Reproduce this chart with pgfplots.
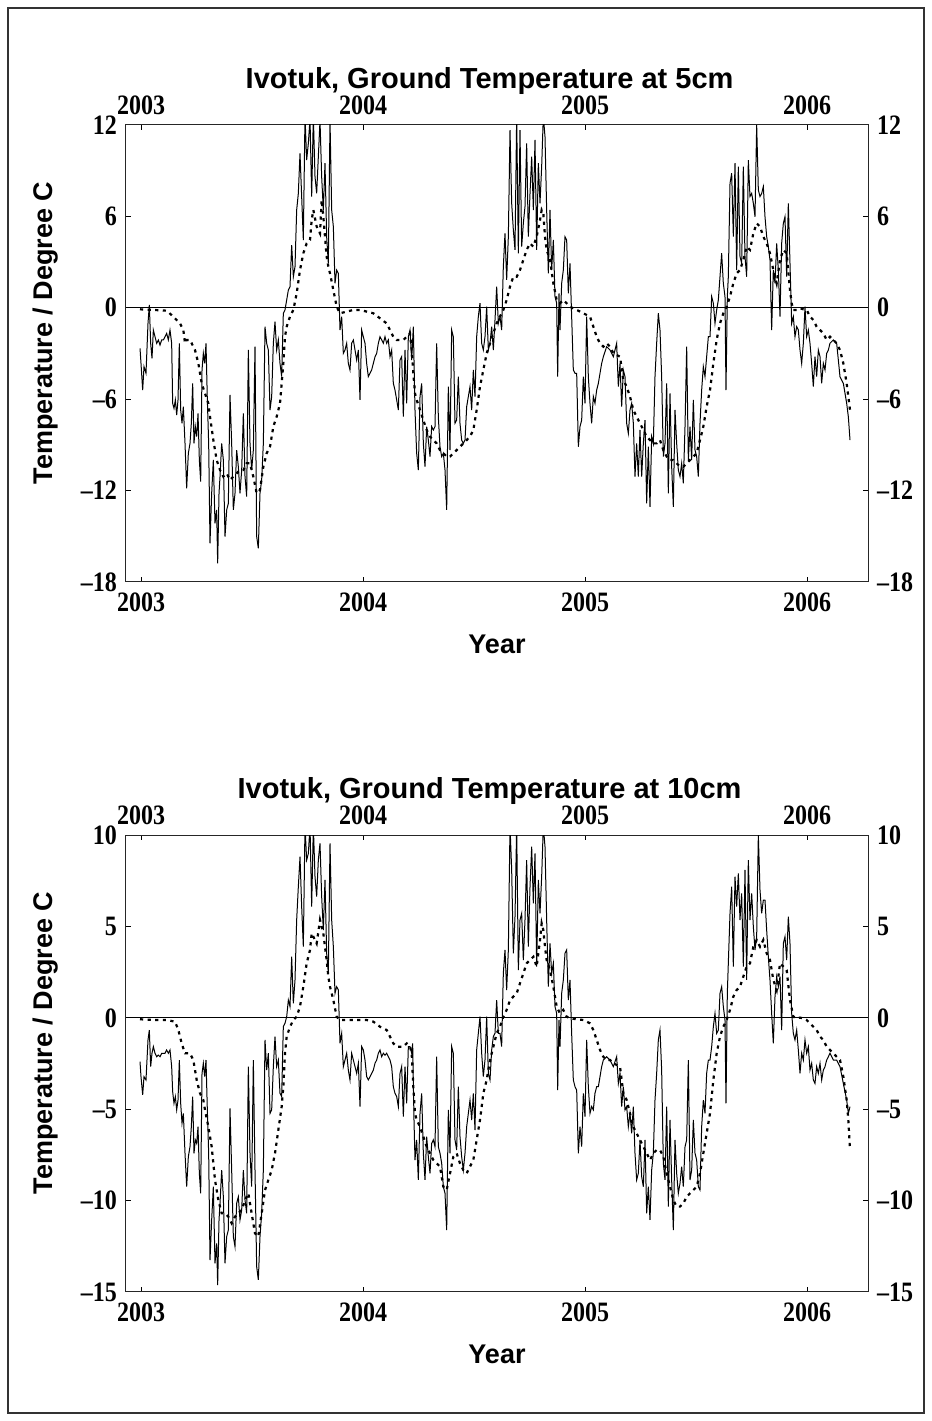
\documentclass[border=0pt]{standalone}
\usepackage{pgfplots}
\usepackage{pgfplotstable}
\pgfplotsset{compat=1.18}
\usepackage{fontspec}
\setmainfont{Liberation Serif}
\setsansfont{Liberation Sans}

\newcommand\tickfont{\rmfamily\bfseries\fontsize{12}{12}\selectfont}
\newcommand\labfont{\sffamily\bfseries\fontsize{13.5}{14}\selectfont}
\newcommand\titfont{\sffamily\bfseries\fontsize{14.5}{15}\selectfont}

% Ivotuk ground temperature, time in years after 1 Jan 2003
% 5 cm: daily series (solid) and smoothed series (dashed)
\pgfplotstableread{
t v
-0.0045 -2.66
0.0000 -3.65
0.0075 -5.40
0.0135 -3.86
0.0225 -4.30
0.0315 -1.02
0.0375 0.19
0.0435 -2.33
0.0495 -3.32
0.0556 -1.46
0.0631 -1.90
0.0706 -2.33
0.0781 -2.11
0.0856 -2.44
0.0931 -2.11
0.1006 -2.11
0.1081 -1.90
0.1156 -1.68
0.1231 -2.11
0.1306 -1.46
0.1381 -2.33
0.1426 -6.27
0.1486 -6.60
0.1547 -6.05
0.1607 -7.04
0.1667 -6.05
0.1727 -2.33
0.1787 -6.71
0.1847 -7.58
0.1907 -6.49
0.1982 -8.90
0.2057 -11.85
0.2132 -9.55
0.2207 -8.90
0.2267 -7.58
0.2327 -4.96
0.2387 -8.90
0.2447 -7.80
0.2508 -8.46
0.2568 -6.93
0.2628 -9.99
0.2688 -11.41
0.2748 -4.08
0.2808 -2.99
0.2868 -3.65
0.2928 -2.33
0.2988 -6.05
0.3048 -8.90
0.3108 -15.46
0.3183 -12.18
0.3258 -9.99
0.3333 -14.15
0.3408 -13.27
0.3453 -16.77
0.3514 -12.18
0.3559 -11.08
0.3634 -8.90
0.3709 -9.99
0.3784 -15.02
0.3859 -13.27
0.3934 -12.84
0.4009 -5.72
0.4084 -8.90
0.4159 -13.27
0.4234 -12.18
0.4309 -9.34
0.4384 -10.43
0.4459 -12.18
0.4535 -10.65
0.4610 -6.93
0.4685 -11.08
0.4760 -12.40
0.4835 -2.77
0.4910 -8.90
0.4985 -10.65
0.5060 -9.34
0.5135 -2.55
0.5210 -15.02
0.5285 -15.79
0.5360 -12.18
0.5435 -11.30
0.5511 -8.90
0.5586 -1.24
0.5661 -2.33
0.5736 -2.77
0.5811 -6.71
0.5886 -5.83
0.5961 -2.33
0.6036 -0.91
0.6111 -2.77
0.6186 -2.11
0.6261 -3.65
0.6336 -4.52
0.6411 -0.36
0.6486 -0.14
0.6562 0.51
0.6637 1.17
0.6712 1.39
0.6787 4.12
0.6862 2.04
0.6937 2.70
0.7012 6.42
0.7087 7.51
0.7162 10.14
0.7237 7.30
0.7312 4.45
0.7387 12.60
0.7462 9.70
0.7538 10.80
0.7613 12.40
0.7688 7.30
0.7763 12.60
0.7838 8.61
0.7913 7.51
0.7988 9.92
0.8063 12.30
0.8138 8.61
0.8213 6.42
0.8288 9.49
0.8363 4.67
0.8438 2.92
0.8514 12.30
0.8589 6.42
0.8664 5.33
0.8739 1.61
0.8814 2.48
0.8889 2.26
0.8964 -1.46
0.9039 -0.58
0.9114 -2.99
0.9189 -2.77
0.9264 -2.33
0.9339 -3.65
0.9414 -4.08
0.9489 -2.33
0.9565 -2.11
0.9640 -2.77
0.9715 -3.43
0.9790 -2.77
0.9865 -6.05
0.9940 -1.46
1.0015 -1.90
1.0090 -2.33
1.0165 -3.65
1.0240 -4.52
1.0315 -4.30
1.0390 -4.08
1.0465 -3.65
1.0541 -3.22
1.0616 -2.99
1.0691 -2.33
1.0766 -1.90
1.0841 -2.11
1.0916 -2.33
1.0991 -1.90
1.1066 -2.33
1.1141 -2.11
1.1216 -3.21
1.1291 -2.77
1.1366 -4.96
1.1441 -5.40
1.1517 -6.05
1.1592 -6.71
1.1667 -3.43
1.1742 -3.21
1.1817 -7.15
1.1892 -2.77
1.1967 -6.27
1.2042 -1.90
1.2117 -1.46
1.2192 -3.43
1.2267 -1.24
1.2342 -6.71
1.2417 -9.55
1.2492 -10.65
1.2568 -5.83
1.2643 -4.96
1.2718 -8.90
1.2793 -10.43
1.2868 -7.80
1.2943 -8.68
1.3018 -9.77
1.3093 -7.80
1.3168 -8.02
1.3243 -7.80
1.3318 -2.33
1.3393 -7.15
1.3468 -9.12
1.3544 -9.77
1.3619 -9.55
1.3694 -10.65
1.3769 -13.27
1.3844 -5.18
1.3919 -9.34
1.3994 -1.46
1.4069 -1.90
1.4144 -7.58
1.4219 -7.37
1.4294 -4.52
1.4369 -7.58
1.4444 -8.68
1.4520 -8.90
1.4595 -8.68
1.4670 -6.49
1.4745 -5.83
1.4820 -5.18
1.4895 -6.71
1.4970 -4.08
1.5045 -5.83
1.5120 -1.90
1.5195 -0.58
1.5270 0.30
1.5345 -2.33
1.5420 -2.77
1.5495 -1.90
1.5571 0.07
1.5646 -2.77
1.5721 -2.33
1.5796 -1.24
1.5871 -2.77
1.5946 -0.80
1.6021 1.39
1.6096 -1.02
1.6171 -0.58
1.6246 -1.46
1.6321 2.70
1.6396 4.89
1.6471 1.83
1.6547 4.67
1.6622 11.67
1.6697 6.86
1.6772 5.11
1.6847 3.80
1.6922 12.60
1.6997 3.58
1.7072 11.67
1.7147 4.01
1.7222 5.54
1.7297 6.64
1.7372 10.80
1.7447 4.67
1.7523 7.51
1.7598 9.92
1.7673 6.42
1.7748 11.02
1.7823 3.80
1.7898 9.49
1.7973 6.86
1.8048 9.27
1.8123 12.60
1.8198 11.23
1.8273 6.42
1.8348 2.26
1.8423 6.42
1.8498 2.48
1.8574 4.45
1.8649 0.73
1.8724 0.30
1.8769 -4.52
1.8829 0.95
1.8874 -1.46
1.8949 1.61
1.9024 2.48
1.9099 4.67
1.9174 4.45
1.9249 0.95
1.9324 2.92
1.9399 -0.58
1.9474 -4.08
1.9550 -4.30
1.9625 -4.30
1.9700 -9.12
1.9775 -7.80
1.9850 -7.37
1.9925 -4.52
2.0000 -6.27
2.0075 -0.58
2.0150 -4.52
2.0225 -6.27
2.0300 -7.58
2.0375 -5.83
2.0450 -6.27
2.0526 -5.40
2.0601 -4.96
2.0676 -4.30
2.0751 -3.65
2.0826 -3.21
2.0976 -2.55
2.1126 -2.77
2.1276 -3.21
2.1426 -2.33
2.1502 -5.18
2.1577 -3.65
2.1652 -6.49
2.1727 -4.08
2.1802 -4.52
2.1877 -7.58
2.1952 -8.24
2.2027 -6.71
2.2102 -6.27
2.2177 -7.58
2.2252 -11.08
2.2327 -8.90
2.2402 -11.08
2.2477 -8.02
2.2553 -11.08
2.2628 -8.90
2.2703 -7.37
2.2778 -12.84
2.2853 -9.12
2.2928 -13.06
2.3003 -8.46
2.3078 -8.90
2.3153 -4.52
2.3228 -2.33
2.3303 -0.36
2.3378 -1.46
2.3453 -4.52
2.3529 -9.77
2.3604 -8.90
2.3679 -4.96
2.3754 -12.18
2.3829 -5.62
2.3904 -10.43
2.3979 -13.06
2.4054 -6.71
2.4129 -8.90
2.4204 -10.65
2.4279 -11.08
2.4354 -10.21
2.4429 -11.52
2.4505 -7.80
2.4580 -2.55
2.4655 -9.99
2.4730 -7.80
2.4805 -9.99
2.4880 -6.05
2.4955 -9.34
2.5030 -9.77
2.5105 -11.08
2.5180 -7.58
2.5255 -5.40
2.5330 -3.86
2.5405 -4.52
2.5480 -3.21
2.5556 -1.90
2.5631 -1.90
2.5706 0.73
2.5781 0.30
2.5856 -1.02
2.5931 -0.14
2.6006 0.51
2.6081 2.04
2.6156 3.58
2.6231 1.61
2.6306 0.73
2.6351 -5.40
2.6411 0.73
2.6456 2.04
2.6532 8.17
2.6607 8.83
2.6682 4.67
2.6757 9.49
2.6832 2.48
2.6907 9.27
2.6982 3.36
2.7057 2.92
2.7132 9.27
2.7207 3.36
2.7282 2.04
2.7357 9.70
2.7432 7.30
2.7508 7.51
2.7583 6.86
2.7658 5.98
2.7733 12.00
2.7808 7.73
2.7883 7.30
2.7958 7.51
2.8033 7.95
2.8108 5.98
2.8183 4.67
2.8258 4.01
2.8333 3.14
2.8408 -1.46
2.8483 2.48
2.8559 1.61
2.8634 4.23
2.8709 2.48
2.8784 -0.58
2.8859 4.23
2.8934 5.54
2.9009 5.98
2.9084 2.04
2.9159 6.86
2.9234 2.92
2.9309 -1.02
2.9384 -0.58
2.9459 -1.90
2.9535 -1.24
2.9610 -1.46
2.9685 -2.77
2.9760 -3.65
2.9835 -2.33
2.9910 0.07
2.9985 -1.90
3.0060 -1.46
3.0135 -2.33
3.0210 -3.65
3.0285 -5.18
3.0360 -3.21
3.0435 -4.52
3.0511 -2.77
3.0586 -3.21
3.0661 -4.96
3.0736 -3.65
3.0811 -4.08
3.0886 -2.99
3.0961 -2.77
3.1036 -2.33
3.1186 -2.11
3.1336 -2.33
3.1486 -4.52
3.1637 -4.96
3.1787 -6.27
3.1862 -7.15
3.1937 -8.68
}\dailyfive

\pgfplotstableread{
t v
-0.0045 -0.10
0.0556 -0.14
0.1156 -0.19
0.1456 -0.58
0.1757 -1.02
0.1907 -1.46
0.1982 -2.33
0.2057 -2.11
0.2207 -2.11
0.2282 -2.33
0.2432 -2.77
0.2583 -3.65
0.2733 -4.96
0.2883 -5.62
0.3033 -6.27
0.3108 -7.15
0.3258 -8.68
0.3408 -9.99
0.3559 -10.65
0.3709 -11.08
0.3859 -10.87
0.4009 -11.30
0.4159 -11.08
0.4309 -10.87
0.4459 -10.65
0.4610 -10.65
0.4760 -10.21
0.4910 -10.21
0.5060 -11.08
0.5210 -12.18
0.5360 -11.96
0.5511 -10.43
0.5661 -9.55
0.5811 -9.12
0.5961 -7.80
0.6111 -7.15
0.6261 -6.27
0.6336 -4.96
0.6411 -3.65
0.6486 -1.90
0.6562 -1.24
0.6712 -0.58
0.6862 -0.14
0.7012 0.95
0.7162 2.48
0.7312 3.58
0.7462 4.23
0.7613 4.45
0.7688 5.76
0.7763 6.42
0.7913 5.33
0.8063 4.89
0.8138 7.08
0.8213 5.98
0.8288 4.67
0.8363 3.36
0.8438 2.70
0.8514 2.26
0.8664 1.17
0.8814 0.07
0.8964 -0.36
0.9264 -0.25
0.9565 -0.14
0.9865 -0.14
1.0165 -0.25
1.0465 -0.36
1.0766 -0.69
1.1066 -1.02
1.1216 -1.46
1.1366 -1.90
1.1517 -2.11
1.1667 -2.11
1.1817 -2.11
1.1967 -1.90
1.2117 -1.68
1.2192 -2.77
1.2267 -4.30
1.2342 -5.62
1.2417 -6.05
1.2568 -6.71
1.2718 -7.37
1.2868 -8.02
1.3018 -8.46
1.3168 -8.68
1.3318 -8.90
1.3468 -9.34
1.3619 -9.55
1.3769 -9.77
1.3919 -9.77
1.4069 -9.55
1.4219 -9.34
1.4369 -9.12
1.4520 -8.90
1.4670 -8.68
1.4820 -8.46
1.4970 -8.02
1.5120 -6.71
1.5270 -5.18
1.5420 -4.08
1.5571 -2.99
1.5721 -2.33
1.5871 -1.68
1.6021 -1.02
1.6171 -0.58
1.6321 -0.14
1.6471 0.51
1.6622 1.39
1.6772 2.04
1.6922 2.04
1.7072 2.48
1.7222 3.14
1.7372 3.80
1.7523 4.23
1.7673 4.01
1.7823 4.67
1.7973 5.76
1.8048 6.42
1.8123 6.20
1.8198 4.67
1.8273 3.80
1.8423 3.14
1.8574 1.61
1.8724 0.51
1.8874 0.30
1.9024 0.51
1.9174 0.30
1.9324 0.07
1.9625 -0.14
1.9925 -0.36
2.0225 -0.58
2.0375 -1.24
2.0526 -1.90
2.0676 -2.33
2.0826 -2.55
2.0976 -2.33
2.1126 -2.55
2.1276 -2.99
2.1577 -3.21
2.1727 -4.74
2.1877 -5.18
2.2027 -5.83
2.2177 -6.71
2.2327 -7.15
2.2477 -7.58
2.2628 -8.02
2.2778 -8.46
2.2928 -8.68
2.3078 -8.90
2.3228 -8.90
2.3378 -8.68
2.3529 -9.34
2.3679 -9.77
2.3829 -9.99
2.3979 -9.99
2.4129 -10.21
2.4279 -10.43
2.4429 -10.43
2.4580 -10.21
2.4730 -9.99
2.4880 -9.77
2.5030 -9.55
2.5180 -8.68
2.5330 -7.80
2.5480 -6.49
2.5631 -5.40
2.5781 -3.65
2.5931 -2.11
2.6081 -1.02
2.6231 -0.36
2.6381 0.07
2.6532 0.73
2.6682 1.61
2.6832 2.26
2.6982 2.48
2.7132 3.14
2.7282 4.01
2.7432 3.80
2.7583 4.89
2.7733 5.55
2.7883 5.33
2.8033 4.67
2.8183 4.23
2.8333 3.58
2.8483 2.48
2.8634 1.61
2.8784 3.14
2.8934 3.80
2.9084 3.58
2.9234 1.17
2.9309 0.30
2.9384 -0.14
2.9535 -0.14
2.9685 -0.03
2.9835 -0.10
2.9985 -0.14
3.0135 -0.58
3.0285 -0.80
3.0435 -1.24
3.0586 -1.46
3.0736 -1.68
3.0886 -2.11
3.1036 -1.90
3.1186 -2.11
3.1336 -2.33
3.1486 -2.77
3.1637 -3.65
3.1787 -4.96
3.1862 -5.83
3.1937 -6.71
}\smoothfive

% 10 cm: daily series (solid) and smoothed series (dashed)
\pgfplotstableread{
t v
-0.0045 -2.40
0.0000 -3.22
0.0075 -4.22
0.0135 -3.22
0.0225 -3.40
0.0315 -1.21
0.0375 -0.67
0.0435 -2.67
0.0495 -1.94
0.0556 -1.58
0.0631 -1.94
0.0706 -2.13
0.0781 -2.04
0.0856 -2.13
0.0931 -1.94
0.1006 -1.94
0.1081 -1.94
0.1156 -1.76
0.1231 -1.94
0.1306 -1.76
0.1381 -2.67
0.1426 -4.04
0.1486 -4.68
0.1547 -4.31
0.1607 -5.04
0.1667 -4.50
0.1727 -2.31
0.1787 -4.68
0.1847 -5.77
0.1907 -5.23
0.1982 -7.41
0.2057 -9.24
0.2132 -7.60
0.2207 -7.05
0.2267 -5.96
0.2327 -4.31
0.2387 -7.41
0.2447 -6.68
0.2508 -6.87
0.2568 -5.96
0.2628 -8.51
0.2688 -9.60
0.2748 -3.04
0.2808 -2.49
0.2868 -3.22
0.2928 -2.31
0.2988 -5.04
0.3048 -7.41
0.3108 -13.25
0.3183 -11.06
0.3258 -9.24
0.3333 -13.43
0.3408 -12.34
0.3453 -14.62
0.3514 -11.06
0.3559 -10.15
0.3634 -8.33
0.3709 -9.79
0.3784 -13.43
0.3859 -11.97
0.3934 -11.61
0.4009 -4.95
0.4084 -8.33
0.4159 -11.97
0.4234 -12.52
0.4309 -10.15
0.4384 -9.79
0.4459 -11.06
0.4535 -10.51
0.4610 -8.33
0.4685 -9.97
0.4760 -10.70
0.4835 -2.67
0.4910 -7.41
0.4985 -9.24
0.5060 -2.31
0.5135 -8.33
0.5210 -13.61
0.5285 -14.34
0.5360 -11.97
0.5435 -10.70
0.5511 -8.33
0.5586 -1.21
0.5661 -2.86
0.5736 -1.94
0.5811 -5.23
0.5886 -5.04
0.5961 -2.67
0.6036 -1.03
0.6111 -2.67
0.6186 -2.31
0.6261 -4.13
0.6336 -4.31
0.6411 -0.48
0.6486 -0.30
0.6562 0.06
0.6637 0.97
0.6712 0.61
0.6787 3.34
0.6862 0.79
0.6937 2.07
0.7012 5.35
0.7087 7.17
0.7162 8.81
0.7237 6.08
0.7312 3.89
0.7387 10.50
0.7462 8.63
0.7538 8.99
0.7613 10.50
0.7688 6.08
0.7763 10.50
0.7838 7.72
0.7913 6.63
0.7988 8.63
0.8063 9.54
0.8138 6.63
0.8213 4.80
0.8288 7.54
0.8363 3.53
0.8438 2.43
0.8514 9.54
0.8589 5.35
0.8664 3.89
0.8739 1.34
0.8814 1.70
0.8889 1.52
0.8964 -1.40
0.9039 -0.85
0.9114 -2.67
0.9189 -2.31
0.9264 -1.94
0.9339 -2.86
0.9414 -3.40
0.9489 -1.94
0.9565 -2.31
0.9640 -2.67
0.9715 -3.04
0.9790 -2.49
0.9865 -4.86
0.9940 -1.58
1.0015 -1.76
1.0090 -2.31
1.0165 -3.22
1.0240 -3.40
1.0315 -3.22
1.0390 -3.04
1.0465 -2.86
1.0541 -2.49
1.0616 -2.31
1.0691 -1.94
1.0766 -1.76
1.0841 -2.13
1.0916 -1.94
1.0991 -2.04
1.1066 -1.94
1.1141 -2.13
1.1216 -2.31
1.1291 -2.67
1.1366 -3.77
1.1441 -4.13
1.1517 -4.31
1.1592 -4.86
1.1667 -3.04
1.1742 -2.67
1.1817 -5.41
1.1892 -2.67
1.1967 -4.68
1.2042 -1.58
1.2117 -1.58
1.2192 -1.94
1.2237 -1.40
1.2297 -5.59
1.2342 -7.78
1.2417 -6.68
1.2492 -8.87
1.2568 -5.23
1.2643 -4.13
1.2718 -7.41
1.2793 -8.87
1.2868 -6.50
1.2943 -7.60
1.3018 -8.51
1.3093 -6.87
1.3168 -6.68
1.3243 -7.05
1.3318 -2.13
1.3393 -7.05
1.3468 -7.41
1.3544 -7.96
1.3619 -9.24
1.3694 -9.60
1.3769 -11.61
1.3844 -5.04
1.3919 -7.41
1.3994 -1.58
1.4069 -1.94
1.4144 -6.68
1.4219 -7.23
1.4294 -3.77
1.4369 -6.50
1.4444 -7.60
1.4520 -8.33
1.4595 -7.41
1.4670 -5.96
1.4745 -5.23
1.4820 -4.50
1.4895 -5.59
1.4970 -4.13
1.5045 -6.14
1.5120 -1.76
1.5195 -0.85
1.5270 0.06
1.5345 -1.94
1.5420 -3.22
1.5495 -2.31
1.5571 0.06
1.5646 -3.04
1.5721 -3.40
1.5796 -1.76
1.5871 -1.03
1.5946 -0.85
1.6021 0.97
1.6096 -0.85
1.6171 -0.85
1.6246 -1.58
1.6321 2.43
1.6396 3.71
1.6471 1.52
1.6547 3.71
1.6622 10.50
1.6697 8.09
1.6772 3.53
1.6847 5.53
1.6922 10.50
1.6997 2.61
1.7072 5.35
1.7147 5.71
1.7222 3.16
1.7297 5.35
1.7372 8.63
1.7447 3.89
1.7523 7.17
1.7598 9.36
1.7673 6.26
1.7748 8.99
1.7823 2.80
1.7898 7.54
1.7973 5.71
1.8048 7.72
1.8123 10.50
1.8198 9.36
1.8273 5.35
1.8348 1.70
1.8423 4.07
1.8498 2.43
1.8574 2.98
1.8649 0.61
1.8724 0.24
1.8769 -3.95
1.8829 -0.12
1.8874 -1.58
1.8949 1.34
1.9024 2.07
1.9099 3.53
1.9174 3.71
1.9249 0.97
1.9324 2.07
1.9399 -0.85
1.9474 -3.40
1.9550 -3.77
1.9625 -3.95
1.9700 -7.41
1.9775 -5.96
1.9850 -7.05
1.9925 -4.13
2.0000 -5.41
2.0075 -1.21
2.0150 -3.77
2.0225 -5.23
2.0300 -4.86
2.0375 -5.04
2.0450 -4.13
2.0526 -3.77
2.0601 -3.77
2.0676 -3.22
2.0751 -2.67
2.0826 -2.31
2.0976 -2.13
2.1126 -2.31
2.1276 -2.67
2.1426 -2.13
2.1502 -3.59
2.1577 -3.04
2.1652 -4.86
2.1727 -3.77
2.1802 -5.04
2.1877 -4.86
2.1952 -5.96
2.2027 -5.23
2.2102 -6.32
2.2177 -4.86
2.2252 -7.41
2.2327 -8.87
2.2402 -8.51
2.2477 -6.68
2.2553 -8.69
2.2628 -9.24
2.2703 -6.68
2.2778 -10.70
2.2853 -9.24
2.2928 -11.06
2.3003 -8.33
2.3078 -7.41
2.3153 -4.50
2.3228 -3.04
2.3303 -1.21
2.3378 -0.67
2.3453 -2.86
2.3529 -7.96
2.3604 -8.87
2.3679 -4.86
2.3754 -10.33
2.3829 -5.59
2.3904 -8.87
2.3979 -11.61
2.4054 -6.68
2.4129 -8.51
2.4204 -9.60
2.4279 -9.06
2.4354 -8.14
2.4429 -9.24
2.4505 -7.05
2.4580 -6.68
2.4655 -2.31
2.4730 -8.87
2.4805 -8.33
2.4880 -5.59
2.4955 -7.41
2.5030 -7.78
2.5105 -9.24
2.5180 -9.42
2.5255 -5.96
2.5330 -4.50
2.5405 -5.23
2.5480 -3.04
2.5556 -2.31
2.5631 -2.31
2.5706 -1.58
2.5781 -0.49
2.5856 0.24
2.5931 -0.85
2.6006 -0.67
2.6081 1.34
2.6156 1.70
2.6231 0.61
2.6306 -0.12
2.6351 -4.68
2.6411 1.34
2.6456 2.98
2.6532 5.71
2.6607 7.17
2.6682 2.80
2.6757 7.72
2.6832 6.08
2.6907 7.90
2.6982 5.35
2.7057 6.81
2.7132 2.80
2.7207 8.09
2.7282 2.07
2.7357 8.63
2.7432 5.35
2.7508 6.81
2.7583 4.98
2.7658 3.71
2.7733 4.44
2.7808 10.00
2.7883 6.99
2.7958 5.71
2.8033 6.44
2.8108 6.44
2.8183 4.80
2.8258 3.34
2.8333 2.07
2.8408 0.24
2.8483 -1.40
2.8559 1.16
2.8634 2.25
2.8709 1.70
2.8784 2.25
2.8859 -0.67
2.8934 4.07
2.9009 4.44
2.9084 3.16
2.9159 5.53
2.9234 4.07
2.9309 0.24
2.9384 -0.85
2.9459 -1.21
2.9535 -0.67
2.9610 -1.76
2.9685 -3.04
2.9760 -1.94
2.9835 -2.31
2.9910 -1.21
2.9985 -1.94
3.0060 -1.58
3.0135 -2.86
3.0210 -2.49
3.0285 -3.40
3.0360 -3.59
3.0435 -2.67
3.0511 -3.04
3.0586 -2.49
3.0661 -3.40
3.0736 -2.86
3.0811 -2.67
3.0886 -2.31
3.0961 -2.13
3.1036 -1.94
3.1186 -2.31
3.1336 -2.31
3.1486 -2.67
3.1637 -3.59
3.1787 -4.50
3.1862 -5.23
3.1937 -4.86
}\dailyten

\pgfplotstableread{
t v
-0.0045 -0.08
0.0556 -0.12
0.1156 -0.12
0.1532 -0.21
0.1682 -0.67
0.1832 -1.40
0.1982 -1.94
0.2207 -1.94
0.2357 -2.31
0.2508 -3.40
0.2658 -4.13
0.2808 -4.50
0.2883 -5.04
0.3033 -5.96
0.3183 -7.05
0.3333 -8.87
0.3483 -9.97
0.3634 -10.70
0.3784 -10.70
0.3934 -10.88
0.4084 -11.24
0.4234 -10.88
0.4384 -10.70
0.4535 -10.51
0.4685 -9.97
0.4835 -9.60
0.4985 -10.70
0.5135 -11.79
0.5285 -11.97
0.5435 -10.70
0.5586 -9.42
0.5736 -8.87
0.5886 -8.33
0.6036 -7.41
0.6186 -6.14
0.6336 -4.86
0.6411 -3.77
0.6486 -1.94
0.6562 -1.03
0.6712 -0.49
0.6862 -0.12
0.7012 0.06
0.7162 0.61
0.7312 1.70
0.7462 2.98
0.7613 3.71
0.7688 4.62
0.7763 4.44
0.7913 4.07
0.8063 5.35
0.8213 4.62
0.8363 3.16
0.8438 2.25
0.8514 1.70
0.8664 0.97
0.8814 0.06
0.8964 -0.12
0.9565 -0.12
1.0165 -0.12
1.0465 -0.21
1.0766 -0.49
1.1066 -0.67
1.1216 -1.03
1.1366 -1.40
1.1517 -1.58
1.1667 -1.58
1.1817 -1.58
1.1967 -1.40
1.2117 -1.58
1.2192 -1.94
1.2267 -3.77
1.2342 -5.23
1.2417 -5.59
1.2568 -5.96
1.2718 -6.50
1.2868 -7.05
1.3018 -7.41
1.3168 -7.78
1.3318 -7.96
1.3468 -8.14
1.3619 -9.24
1.3769 -9.42
1.3919 -8.51
1.4069 -7.60
1.4219 -7.41
1.4369 -7.96
1.4520 -8.33
1.4670 -8.51
1.4820 -8.14
1.4970 -7.78
1.5120 -6.68
1.5270 -5.59
1.5420 -4.13
1.5571 -3.40
1.5721 -2.31
1.5871 -1.58
1.6021 -0.85
1.6171 -0.49
1.6321 0.06
1.6471 0.43
1.6622 0.97
1.6772 1.16
1.6922 1.34
1.7072 1.89
1.7222 2.43
1.7372 2.98
1.7523 3.16
1.7673 3.34
1.7823 2.80
1.7973 4.26
1.8048 5.17
1.8123 4.80
1.8198 3.89
1.8273 3.16
1.8423 2.61
1.8574 1.70
1.8724 0.61
1.8874 0.24
1.9024 0.43
1.9174 0.06
1.9324 -0.03
1.9625 -0.08
1.9925 -0.12
2.0225 -0.30
2.0375 -0.67
2.0526 -1.21
2.0676 -1.76
2.0826 -2.13
2.0976 -2.31
2.1126 -2.31
2.1276 -2.49
2.1577 -2.67
2.1727 -4.13
2.1877 -4.50
2.2027 -5.23
2.2177 -5.96
2.2327 -6.32
2.2477 -6.68
2.2628 -7.05
2.2778 -7.41
2.2928 -7.78
2.3078 -7.41
2.3228 -7.23
2.3378 -7.23
2.3529 -7.60
2.3679 -8.51
2.3829 -9.24
2.3979 -9.97
2.4129 -10.33
2.4279 -10.33
2.4429 -10.15
2.4580 -9.79
2.4730 -9.60
2.4880 -9.42
2.5030 -9.24
2.5180 -8.51
2.5330 -7.41
2.5480 -6.32
2.5631 -5.23
2.5781 -3.40
2.5931 -1.94
2.6081 -1.03
2.6231 -0.49
2.6381 -0.12
2.6532 0.43
2.6682 1.16
2.6832 1.52
2.6982 1.70
2.7132 2.25
2.7282 2.80
2.7432 2.98
2.7583 3.89
2.7733 4.26
2.7883 3.89
2.8033 4.26
2.8183 3.53
2.8333 3.16
2.8483 2.07
2.8634 1.52
2.8784 2.98
2.8934 2.80
2.9084 2.61
2.9234 0.97
2.9384 0.06
2.9535 -0.03
2.9685 0.01
2.9835 -0.03
2.9985 -0.12
3.0135 -0.30
3.0285 -0.49
3.0435 -0.67
3.0586 -1.03
3.0736 -1.21
3.0886 -1.58
3.1036 -1.76
3.1186 -1.94
3.1336 -2.13
3.1486 -2.31
3.1637 -3.22
3.1787 -4.50
3.1862 -5.59
3.1937 -7.23
}\smoothten

\pgfplotsset{
  panel/.style={
    scale only axis, width=371pt, height=228.5pt,
    xmin=-0.0676, xmax=3.2748,
    xtick={0,1,2,3}, xticklabels={2003,2004,2005,2006},
    tick align=inside, major tick length=2.5pt,
    axis line style={line width=0.5pt, black!85},
    every tick/.style={black, line width=0.5pt},
    tick label style={font=\tickfont, yscale=1.17},
    xticklabel style={yshift=-1pt},
    yticklabel style={xshift=-1pt},
  },
  labels/.style={
    scale only axis, width=371pt, height=228.5pt,
    xmin=-0.0676, xmax=3.2748,
    xtick={0,1,2,3}, xticklabels={2003,2004,2005,2006},
    xticklabel pos=upper, yticklabel pos=right,
    axis line style={draw=none}, major tick length=0pt,
    tick label style={font=\tickfont, yscale=1.17},
    xticklabel style={yshift=1pt},
    yticklabel style={xshift=1pt},
    title style={at={(axis description cs:0.49,1.097)}, anchor=center,
      yshift=-6pt, font=\titfont},
  },
  daily/.style={black, line width=0.5pt},
  smooth/.style={black, line width=1.1pt, dash pattern=on 1.6pt off 2.2pt},
  zero/.style={black, line width=0.5pt},
  ylab/.style={ylabel style={at={(axis description cs:-0.109,0.545)}, anchor=center, font=\labfont}},
  xlab/.style={xlabel style={at={(axis description cs:0.5,-0.137)}, anchor=center, font=\labfont}},
}

\begin{document}
\begin{tikzpicture}
\useasboundingbox (0pt,0pt) rectangle (466pt,710.5pt);
\draw[line width=0.6pt, black!80] (4pt,4pt) rectangle (462pt,706.5pt);

% 5 cm panel
\begin{scope}[shift={(63pt,419.5pt)}]
\begin{axis}[panel, at={(0pt,0pt)}, anchor=south west,
  ymin=-18, ymax=12, ytick={-18,-12,-6,0,6,12},
  yticklabels={\textendash18,\textendash12,\textendash6,0,6,12},
  xlabel={Year}, ylabel={Temperature / Degree C}, xlab, ylab]
  \addplot[zero] coordinates {(-0.0676,0) (3.2748,0)};
  \addplot[smooth] table[x=t, y=v] {\smoothfive};
  \addplot[daily] table[x=t, y=v] {\dailyfive};
\end{axis}
\begin{axis}[labels, at={(0pt,0pt)}, anchor=south west,
  ymin=-18, ymax=12, ytick={-18,-12,-6,0,6,12},
  yticklabels={\textendash18,\textendash12,\textendash6,0,6,12},
  title={Ivotuk, Ground Temperature at 5cm}]
\end{axis}
\end{scope}

% 10 cm panel
\begin{scope}[shift={(63pt,64.5pt)}]
\begin{axis}[panel, at={(0pt,0pt)}, anchor=south west,
  ymin=-15, ymax=10, ytick={-15,-10,-5,0,5,10},
  yticklabels={\textendash15,\textendash10,\textendash5,0,5,10},
  xlabel={Year}, ylabel={Temperature / Degree C}, xlab, ylab]
  \addplot[zero] coordinates {(-0.0676,0) (3.2748,0)};
  \addplot[smooth] table[x=t, y=v] {\smoothten};
  \addplot[daily] table[x=t, y=v] {\dailyten};
\end{axis}
\begin{axis}[labels, at={(0pt,0pt)}, anchor=south west,
  ymin=-15, ymax=10, ytick={-15,-10,-5,0,5,10},
  yticklabels={\textendash15,\textendash10,\textendash5,0,5,10},
  title={Ivotuk, Ground Temperature at 10cm}]
\end{axis}
\end{scope}
\end{tikzpicture}
\end{document}
